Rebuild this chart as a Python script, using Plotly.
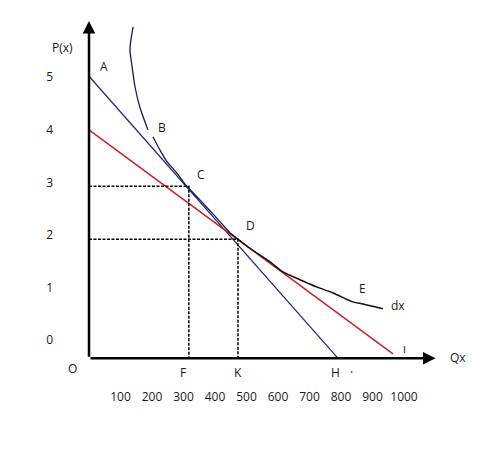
import plotly.graph_objects as go

# tick labels
q_ticks = [100, 200, 300, 400, 500, 600, 700, 800, 900, 1000]
p_ticks = [0, 1, 2, 3, 4, 5]

# axes extent (the drawn axis arrows)
q_axis_end = 1100
p_axis_base = -0.34
p_axis_end = 6.07

# straight demand lines
blue_q = [0, 790]
blue_p = [5.02, -0.34]
red_q = [0, 965]
red_p = [4.0, -0.26]

# dx curve, upper part (navy, with the gap near B) and lower part (black)
dx_upper_q = [140, 133, 130, 136, 146, 162, 187, None, 203, 225, 248, 276, 305, 352, 400, 448]
dx_upper_p = [5.96, 5.71, 5.52, 5.23, 4.82, 4.42, 4.0, None, 3.87, 3.62, 3.39, 3.20, 2.97, 2.67, 2.36, 2.04]
dx_lower_q = [448, 511, 575, 616, 670, 724, 775, 838, 870, 933]
dx_lower_p = [2.04, 1.75, 1.49, 1.30, 1.15, 1.01, 0.90, 0.73, 0.69, 0.60]

# points C and D
c_q, c_p = 317, 2.93
d_q, d_p = 473, 1.92

# point labels
lbl_text = ["A", "B", "C", "D", "E", "dx", "ı", "F", "K", "H", "·", "O", "Qx"]
lbl_q = [48, 232, 356, 514, 867, 981, 1000, 298, 473, 781, 832, -51, 1171]
lbl_p = [5.2, 4.05, 3.16, 2.19, 0.99, 0.67, -0.15, -0.62, -0.62, -0.62, -0.62, -0.53, -0.32]

NAVY = "#2b2b80"
RED = "#cc1f2a"

fig = go.Figure()

fig.add_trace(go.Scatter(x=blue_q, y=blue_p, mode="lines",
                         line=dict(color=NAVY, width=1.3), hoverinfo="skip"))
fig.add_trace(go.Scatter(x=red_q, y=red_p, mode="lines",
                         line=dict(color=RED, width=1.5), hoverinfo="skip"))
fig.add_trace(go.Scatter(x=dx_upper_q, y=dx_upper_p, mode="lines", connectgaps=False,
                         line=dict(color="#1c1c50", width=1.3, shape="spline", smoothing=0.6),
                         hoverinfo="skip"))
fig.add_trace(go.Scatter(x=dx_lower_q, y=dx_lower_p, mode="lines",
                         line=dict(color="#111111", width=1.5, shape="spline", smoothing=0.8),
                         hoverinfo="skip"))

# dashed guides to C and D
for q, p in [(c_q, c_p), (d_q, d_p)]:
    fig.add_trace(go.Scatter(x=[0, q, q], y=[p, p, p_axis_base], mode="lines",
                             line=dict(color="black", width=1.5, dash="3px,1.5px"),
                             hoverinfo="skip"))

anns = []
# axes as arrows
anns.append(dict(x=0, y=p_axis_end, ax=0, ay=p_axis_base, xref="x", yref="y",
                 axref="x", ayref="y", text="", showarrow=True, arrowhead=2,
                 arrowsize=1, arrowwidth=2.5, arrowcolor="black"))
anns.append(dict(x=q_axis_end, y=p_axis_base, ax=0, ay=p_axis_base, xref="x", yref="y",
                 axref="x", ayref="y", text="", showarrow=True, arrowhead=2,
                 arrowsize=1, arrowwidth=2.5, arrowcolor="black"))
for t, q, p in zip(lbl_text, lbl_q, lbl_p):
    anns.append(dict(x=q, y=p, text=t, showarrow=False, xref="x", yref="y",
                     font=dict(size=12, color="#1a1a1a")))
# y axis title sits left of the plot area
anns.append(dict(x=-0.018, y=5.56, text="P(x)", showarrow=False, xref="paper", yref="y",
                 font=dict(size=12, color="#1a1a1a")))

fig.update_layout(
    width=492, height=445,
    margin=dict(l=50, r=10, t=5, b=65),
    paper_bgcolor="white", plot_bgcolor="white",
    showlegend=False,
    font=dict(family="Open Sans", size=12, color="#1a1a1a"),
    annotations=anns,
    xaxis=dict(range=[-98.4, 1273], tickvals=q_ticks, ticktext=[str(v) for v in q_ticks],
               showgrid=False, zeroline=False, showline=False, ticks=""),
    yaxis=dict(range=[-0.907, 6.222], tickvals=p_ticks, ticktext=[str(v) for v in p_ticks],
               showgrid=False, zeroline=False, showline=False, ticks="",
               ticklabelstandoff=4),
)

fig.write_html("out.html")
